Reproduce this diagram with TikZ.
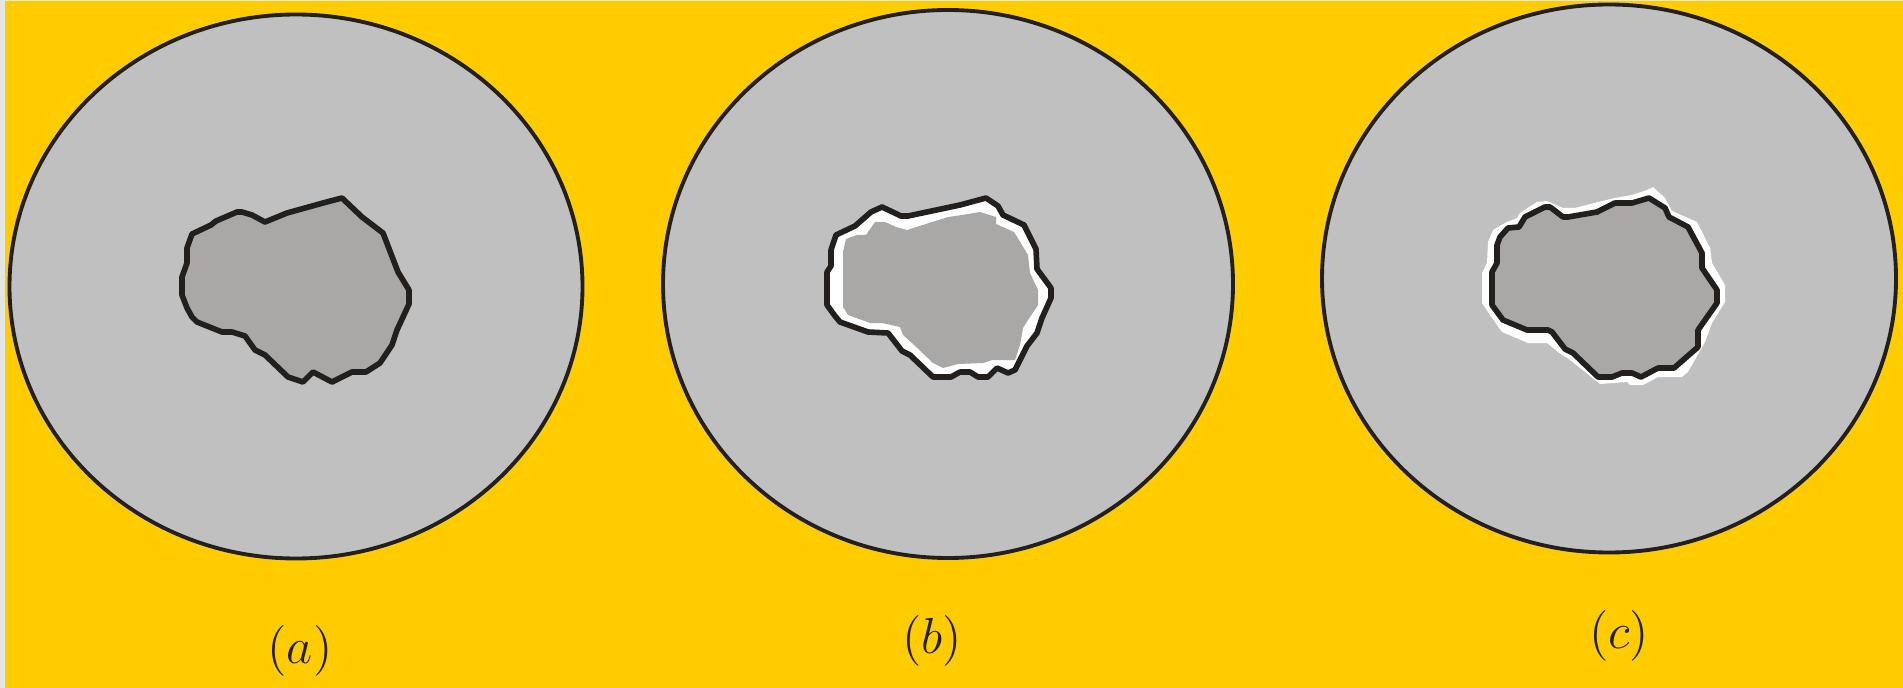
\documentclass[tikz,border=0pt]{standalone}
\usepackage{amsmath,amssymb}
\usepackage{tikz}

\definecolor{sheet}{RGB}{227,230,230}
\definecolor{backyellow}{RGB}{255,204,0}
\definecolor{grainfill}{RGB}{192,192,192}
\definecolor{poregray}{RGB}{169,168,166}
\definecolor{ink}{RGB}{35,31,28}

% original pore (a), pore after shrinking (b), pore after growing (c)
\newcommand\porea{(342,198) -- (362,217) -- (383,233) -- (398,272) -- (409,290) -- (409,304) -- (397,330) -- (392,345) -- (380,363) -- (366,372) -- (352,372) -- (332,382) -- (313,372) -- (303,382) -- (288,377) -- (265,355) -- (255,350) -- (245,336) -- (232,332) -- (222,332) -- (197,322) -- (192,317) -- (187,308) -- (182,295) -- (182,277) -- (187,263) -- (187,248) -- (192,234) -- (211,225) -- (216,221) -- (237,212) -- (242,212) -- (252,215) -- (265,222) -- (287,213) -- (305,208) -- (323,203) -- cycle}
\newcommand\poreb{(986,198) -- (998,206) -- (1003,215) -- (1024,225) -- (1036,249) -- (1037,269) -- (1051,288) -- (1051,298) -- (1042,318) -- (1037,333) -- (1027,346) -- (1015,370) -- (1008,373) -- (997,368) -- (988,377) -- (978,377) -- (970,372) -- (960,372) -- (951,377) -- (933,377) -- (910,355) -- (902,351) -- (888,333) -- (868,332) -- (840,322) -- (835,316) -- (827,305) -- (827,272) -- (831,266) -- (831,250) -- (836,235) -- (855,226) -- (871,212) -- (882,207) -- (901,216) -- (908,216) -- (960,205) -- cycle}
\newcommand\shrunkb{(980,212) -- (996,217) -- (996,224) -- (1014,232) -- (1028,255) -- (1030,273) -- (1038,290) -- (1038,305) -- (1028,320) -- (1023,328) -- (1020,345) -- (1015,360) -- (992,360) -- (983,363) -- (958,364) -- (943,368) -- (933,363) -- (912,343) -- (903,335) -- (900,327) -- (882,323) -- (870,323) -- (848,315) -- (843,307) -- (843,252) -- (846,239) -- (857,235) -- (866,235) -- (875,222) -- (885,222) -- (896,227) -- (907,230) -- (948,217) -- (962,215) -- cycle}
\newcommand\porec{(1649,198) -- (1665,208) -- (1669,217) -- (1688,227) -- (1702,253) -- (1702,268) -- (1717,290) -- (1717,303) -- (1698,330) -- (1698,347) -- (1674,368) -- (1658,368) -- (1641,377) -- (1632,373) -- (1622,373) -- (1612,377) -- (1598,377) -- (1573,353) -- (1565,349) -- (1552,332) -- (1548,330) -- (1527,330) -- (1503,320) -- (1492,305) -- (1492,272) -- (1497,263) -- (1497,245) -- (1500,237) -- (1508,228) -- (1519,227) -- (1522,222) -- (1525,217) -- (1545,207) -- (1550,207) -- (1563,217) -- (1568,217) -- (1597,212) -- (1615,203) -- (1632,203) -- cycle}
\newcommand\grownc{(1653,187) -- (1665,198) -- (1672,211) -- (1697,222) -- (1710,248) -- (1712,263) -- (1725,285) -- (1725,302) -- (1712,323) -- (1705,342) -- (1688,372) -- (1682,377) -- (1658,377) -- (1643,385) -- (1630,385) -- (1627,382) -- (1613,383) -- (1600,384) -- (1570,360) -- (1558,352) -- (1547,343) -- (1528,343) -- (1502,332) -- (1490,315) -- (1482,303) -- (1482,273) -- (1487,263) -- (1488,242) -- (1493,230) -- (1507,222) -- (1517,218) -- (1520,213) -- (1537,202) -- (1547,201) -- (1563,208) -- (1575,208) -- (1598,202) -- (1615,198) -- (1632,195) -- (1647,190) -- cycle}

\begin{document}
\begin{tikzpicture}[
  x=0.01cm, y=-0.01cm,
  grain/.style={draw=ink, line width=1.1pt, fill=grainfill},
  pore/.style={draw=ink, line width=1.6pt, line join=round, fill=poregray},
  rim/.style={fill=white},
  tag/.style={font=\fontsize{14.5}{17}\selectfont, text=ink, inner sep=0pt}
]
\useasboundingbox (0,0) rectangle (1903,688);
\fill[sheet] (0,0) rectangle (1903,688);
\fill[backyellow] (5,1) rectangle (1903,688);

\path[grain] (296,286.5) ellipse [x radius=286.5, y radius=272];
\path[grain] (948,284) ellipse [x radius=285, y radius=274];
\path[grain] (1609,278.5) ellipse [x radius=287, y radius=274];

\path[pore] \porea;

\fill[rim] \poreb;
\fill[poregray] \shrunkb;
\draw[pore, fill=none] \poreb;

\fill[rim] \grownc;
\path[pore] \porec;

\node[tag] (taga) at (300,651) {$(a)$};
\node[tag] (tagb) at (932,641) {$(b)$};
\node[tag] (tagc) at (1619,636) {$(c)$};
\end{tikzpicture}
\end{document}
